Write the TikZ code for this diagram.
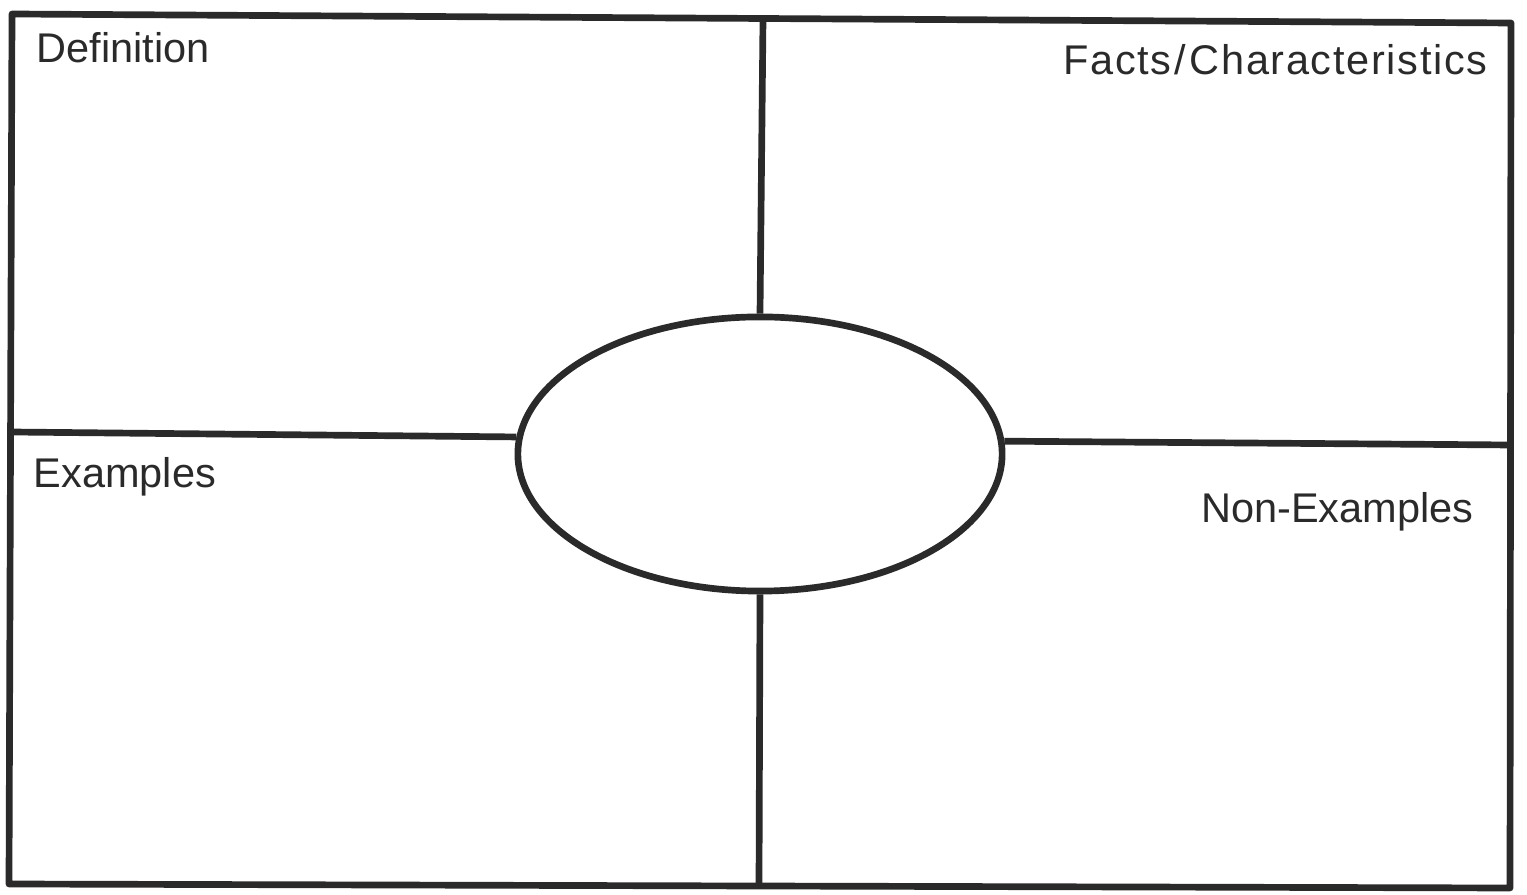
\documentclass[tikz,border=0pt]{standalone}
\usepackage{fontspec}
\setmainfont{Liberation Sans}
\usepackage{xcolor}
\definecolor{fminkd}{RGB}{42,42,42}
\usetikzlibrary{shapes.geometric}

\begin{document}
\begin{tikzpicture}[x=0.01cm,y=-0.01cm,
  rule/.style={draw=fminkd,line width=1.9pt,line join=round},
  label/.style={inner sep=0pt,text=fminkd,font=\fontsize{11.8}{14}\selectfont}]
  \useasboundingbox (0,0) rectangle (1527,895);
  % outer frame (slightly skewed, as scanned)
  \coordinate (tl) at (12,14);
  \coordinate (tr) at (1511,23);
  \coordinate (br) at (1510,888);
  \coordinate (bl) at (9,884);
  \coordinate (tm) at (763,19);
  \coordinate (bm) at (759,887);
  \coordinate (lm) at (11,432);
  \coordinate (rm) at (1511,445);
  \draw[rule] (tl)--(tr)--(br)--(bl)--cycle;
  % central term
  \node[rule,ellipse,minimum width=4.84cm,minimum height=2.74cm,inner sep=0pt] (term) at (760,454) {};
  \draw[rule] (tm)--(term.north);
  \draw[rule] (term.south)--(bm);
  \draw[rule] (lm)--(term.176);
  \draw[rule] (term.3)--(rm);
  % quadrant titles
  \node[label,anchor=base west] (defn) at (36,63) {Definition};
  \node[label,anchor=base east] (facts) at (1488,75) {\addfontfeature{LetterSpace=4}Facts\kern0.08em/\kern0.08em Characteristics};
  \node[label,anchor=base west] (exs) at (33,488) {Examples};
  \node[label,anchor=base east] (nonexs) at (1474,523) {Non-Examples};
\end{tikzpicture}
\end{document}
